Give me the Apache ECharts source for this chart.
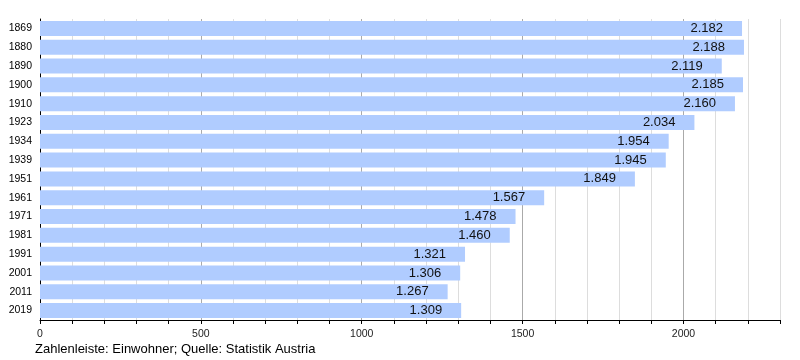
<!DOCTYPE html>
<html><head><meta charset="utf-8">
<script src="https://cdn.jsdelivr.net/npm/echarts@6/dist/echarts.min.js"></script>
<style>html,body{margin:0;padding:0;background:#fff}#c{width:800px;height:360px}</style>
</head><body><div id="c"></div>
<script>
const years = ['1869','1880','1890','1900','1910','1923','1934','1939','1951','1961','1971','1981','1991','2001','2011','2019'];
const population = [2182,2188,2119,2185,2160,2034,1954,1945,1849,1567,1478,1460,1321,1306,1267,1309];
const xTickLabels = [0,500,1000,1500,2000];
const footer = 'Zahlenleiste: Einwohner; Quelle: Statistik Austria';

const font = 'Liberation Sans, Arial, sans-serif';
const chart = echarts.init(document.getElementById('c'), null, {renderer:'canvas'});
const gridColors = [];
for (let i = 0; i <= 23; i++) gridColors.push(i % 5 === 0 ? '#aaaaaa' : '#dddddd');
chart.setOption({
  animation:false,
  grid:{left:40,right:20,top:19,bottom:40,containLabel:false},
  xAxis:{
    type:'value', min:0, max:2300, interval:100,
    axisLine:{show:true,lineStyle:{color:'#000',width:1}},
    axisTick:{show:true,length:4,lineStyle:{color:'#000'}},
    splitLine:{show:true,lineStyle:{color:gridColors,width:1}},
    axisLabel:{color:'#222',fontFamily:font,fontSize:10.5,margin:9,
      formatter:v=>xTickLabels.includes(v)?String(v):''}
  },
  yAxis:{
    type:'category', data:years, inverse:true,
    axisLine:{show:true,lineStyle:{color:'#000',width:1}},
    axisTick:{show:false},
    axisLabel:{color:'#000',fontFamily:font,fontSize:10.5,margin:8}
  },
  series:[{
    type:'bar', data:population, barCategoryGap:'20%',
    itemStyle:{color:'#b0ccff'},
    label:{show:true,position:'insideRight',distance:19,color:'#111',fontFamily:font,fontSize:13,
      formatter:p=>{const s=String(p.value);return s.length>3?s.slice(0,s.length-3)+'.'+s.slice(-3):s;}}
  }],
  graphic:[{type:'text',left:35,top:343,style:{text:footer,fill:'#000',font:'13px '+font}}]
});
</script></body></html>
